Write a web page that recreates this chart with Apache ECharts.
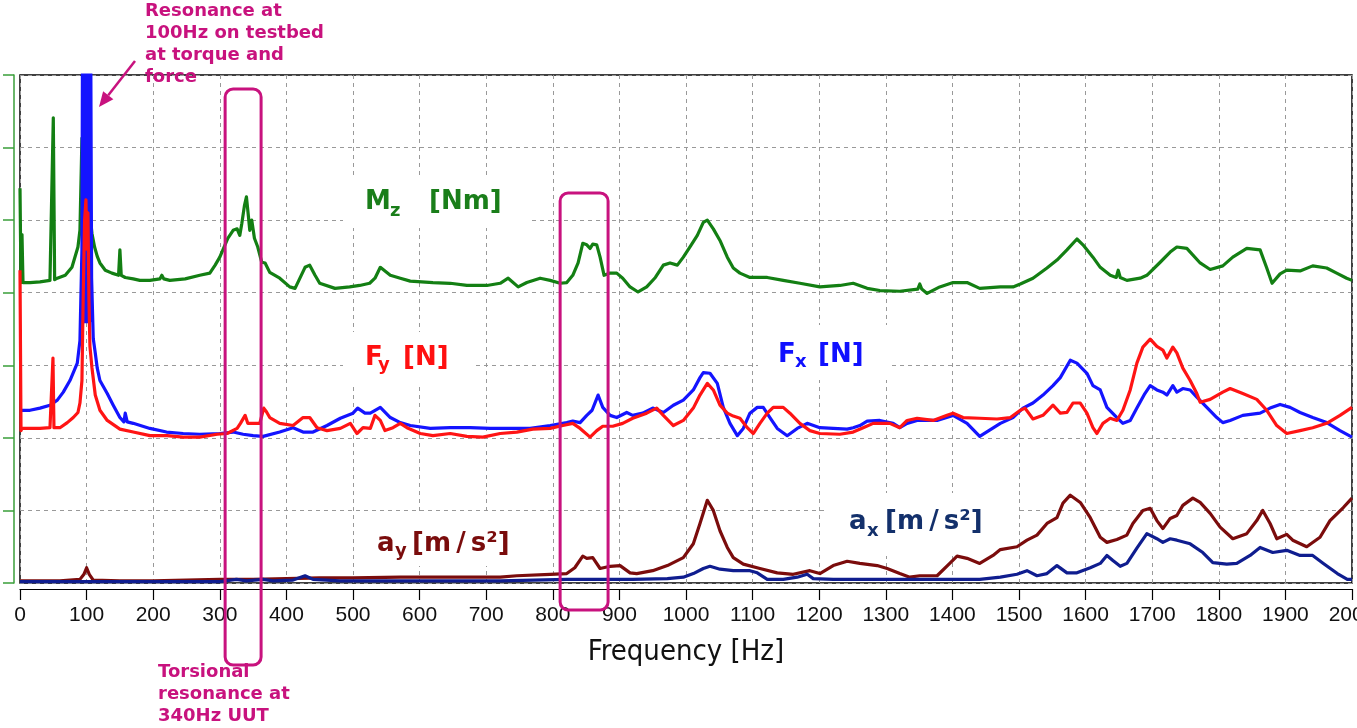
<!DOCTYPE html>
<html><head><meta charset="utf-8">
<script src="https://cdn.jsdelivr.net/npm/echarts@6/dist/echarts.min.js"></script>
<style>html,body{margin:0;padding:0;background:#fff}#c{width:1357px;height:728px}</style>
</head><body><div id="c"></div>
<script>
// Frequency [Hz] , amplitude (in grid divisions, 0..7)
const mzData = [[0,5.44],[1.5,4.14],[3,4.8],[4.5,4.14],[15,4.14],[30,4.15],[45,4.17],[48,4.17],[50,6.41],[52,4.18],[56,4.20],[68,4.24],[78,4.35],[87,4.63],[90,4.86],[93,6.13],[95,5.0],[100,5.6],[104,6.38],[106,5.0],[108,4.82],[112,4.63],[116,4.5],[120,4.41],[128,4.31],[138,4.27],[148,4.24],[150,4.59],[152,4.24],[158,4.21],[170,4.19],[180,4.17],[195,4.17],[210,4.19],[213,4.24],[216,4.19],[225,4.17],[248,4.19],[270,4.24],[285,4.27],[293,4.38],[300,4.49],[312,4.75],[320,4.86],[326,4.88],[330,4.79],[333,4.95],[337,5.2],[340,5.32],[343,5.05],[345,4.86],[348,5.0],[352,4.75],[357,4.63],[363,4.42],[368,4.41],[375,4.28],[390,4.20],[405,4.08],[413,4.06],[428,4.35],[435,4.38],[443,4.24],[450,4.13],[473,4.06],[495,4.08],[510,4.10],[525,4.13],[533,4.20],[541,4.35],[556,4.24],[571,4.20],[586,4.16],[620,4.14],[646,4.13],[671,4.10],[701,4.10],[721,4.13],[733,4.20],[748,4.08],[761,4.14],[781,4.20],[796,4.17],[811,4.13],[821,4.14],[830,4.24],[838,4.41],[845,4.68],[851,4.66],[856,4.61],[860,4.67],[866,4.66],[871,4.49],[877,4.24],[886,4.27],[896,4.27],[905,4.20],[916,4.08],[928,4.01],[941,4.08],[954,4.21],[966,4.38],[976,4.41],[987,4.38],[996,4.49],[1006,4.63],[1017,4.79],[1026,4.97],[1032,5.0],[1041,4.88],[1051,4.72],[1062,4.49],[1071,4.34],[1081,4.27],[1096,4.21],[1122,4.21],[1146,4.17],[1171,4.13],[1201,4.08],[1231,4.10],[1251,4.13],[1272,4.06],[1291,4.03],[1321,4.02],[1348,4.05],[1351,4.12],[1354,4.05],[1362,3.99],[1381,4.08],[1401,4.14],[1422,4.14],[1441,4.06],[1472,4.08],[1491,4.08],[1502,4.12],[1521,4.20],[1542,4.34],[1557,4.45],[1572,4.59],[1587,4.74],[1596,4.66],[1611,4.49],[1622,4.35],[1637,4.24],[1646,4.21],[1649,4.31],[1652,4.21],[1662,4.17],[1682,4.20],[1692,4.24],[1712,4.42],[1727,4.56],[1737,4.63],[1752,4.61],[1772,4.41],[1787,4.32],[1806,4.37],[1821,4.49],[1842,4.61],[1862,4.59],[1872,4.34],[1880,4.13],[1892,4.26],[1902,4.31],[1922,4.30],[1941,4.37],[1962,4.34],[1977,4.27],[1992,4.20],[2000,4.17]];

const fxData = [[0,2.38],[15,2.38],[30,2.41],[45,2.45],[56,2.52],[65,2.63],[75,2.79],[86,3.03],[90,3.34],[93,4.6],[94,8],[95.5,3.6],[97,8],[98.5,3.6],[100,8],[101.5,3.6],[103,8],[104.5,3.6],[106,8],[107.5,4.2],[110,3.37],[113,3.17],[116,2.96],[120,2.79],[131,2.61],[140,2.45],[150,2.28],[156,2.22],[158,2.34],[161,2.22],[170,2.20],[195,2.13],[220,2.08],[245,2.06],[270,2.05],[300,2.06],[320,2.08],[335,2.05],[350,2.03],[365,2.02],[390,2.08],[410,2.14],[425,2.08],[440,2.08],[461,2.17],[481,2.27],[500,2.34],[507,2.41],[518,2.34],[526,2.34],[541,2.42],[556,2.28],[571,2.21],[586,2.17],[616,2.13],[646,2.14],[676,2.14],[706,2.13],[736,2.13],[766,2.13],[796,2.17],[821,2.21],[830,2.23],[841,2.21],[851,2.31],[859,2.38],[868,2.59],[875,2.42],[886,2.31],[896,2.28],[911,2.35],[920,2.31],[935,2.34],[950,2.41],[966,2.35],[981,2.45],[996,2.52],[1011,2.66],[1021,2.83],[1026,2.90],[1036,2.89],[1047,2.75],[1056,2.42],[1066,2.20],[1077,2.03],[1086,2.13],[1096,2.34],[1107,2.42],[1116,2.42],[1126,2.28],[1137,2.13],[1152,2.03],[1167,2.13],[1182,2.20],[1201,2.14],[1221,2.13],[1242,2.12],[1251,2.14],[1261,2.17],[1272,2.23],[1291,2.24],[1311,2.20],[1321,2.14],[1332,2.20],[1347,2.24],[1377,2.24],[1401,2.31],[1422,2.20],[1441,2.02],[1472,2.20],[1491,2.28],[1506,2.41],[1521,2.48],[1536,2.59],[1551,2.72],[1562,2.83],[1577,3.07],[1587,3.03],[1602,2.89],[1611,2.72],[1622,2.66],[1632,2.42],[1647,2.28],[1656,2.20],[1667,2.24],[1677,2.41],[1689,2.61],[1697,2.72],[1707,2.66],[1716,2.63],[1722,2.59],[1731,2.72],[1737,2.63],[1746,2.68],[1757,2.66],[1767,2.56],[1782,2.42],[1797,2.28],[1806,2.21],[1817,2.24],[1836,2.31],[1862,2.34],[1877,2.41],[1892,2.46],[1907,2.42],[1922,2.35],[1941,2.28],[1962,2.21],[1982,2.10],[2000,2.01]];

const fyData = [[0,4.31],[1.5,2.10],[3,2.13],[15,2.13],[30,2.13],[45,2.14],[48,2.14],[49.5,3.10],[51,2.14],[60,2.14],[71,2.21],[80,2.28],[87,2.35],[90,2.48],[93,2.79],[95,4.0],[97,5.0],[99,5.28],[100.5,4.6],[102,5.1],[103.5,3.9],[105,3.26],[108,2.97],[113,2.59],[120,2.38],[131,2.24],[150,2.12],[170,2.08],[195,2.03],[221,2.03],[245,2.01],[270,2.01],[296,2.05],[311,2.06],[326,2.13],[331,2.20],[338,2.31],[342,2.20],[346,2.20],[353,2.20],[360,2.20],[366,2.41],[370,2.36],[375,2.28],[390,2.20],[410,2.17],[425,2.28],[435,2.28],[446,2.14],[461,2.10],[481,2.13],[496,2.20],[506,2.06],[515,2.14],[526,2.13],[533,2.31],[541,2.24],[548,2.10],[560,2.14],[571,2.20],[581,2.14],[601,2.06],[620,2.03],[646,2.06],[671,2.02],[695,2.01],[721,2.06],[746,2.08],[770,2.12],[796,2.13],[815,2.17],[830,2.20],[841,2.13],[856,2.01],[866,2.10],[875,2.16],[890,2.16],[905,2.20],[920,2.27],[941,2.34],[956,2.41],[966,2.31],[981,2.17],[996,2.24],[1011,2.41],[1021,2.59],[1032,2.75],[1041,2.66],[1051,2.45],[1062,2.34],[1071,2.30],[1081,2.27],[1092,2.14],[1101,2.06],[1111,2.20],[1122,2.34],[1131,2.42],[1146,2.42],[1156,2.34],[1171,2.20],[1186,2.10],[1201,2.06],[1231,2.05],[1251,2.08],[1266,2.14],[1281,2.20],[1306,2.20],[1321,2.14],[1332,2.24],[1347,2.27],[1371,2.24],[1392,2.31],[1401,2.34],[1416,2.28],[1441,2.27],[1467,2.26],[1487,2.28],[1502,2.38],[1509,2.41],[1521,2.26],[1536,2.31],[1551,2.45],[1562,2.34],[1572,2.35],[1581,2.48],[1592,2.48],[1602,2.34],[1611,2.14],[1617,2.06],[1626,2.20],[1637,2.27],[1647,2.24],[1656,2.38],[1667,2.66],[1677,3.03],[1686,3.25],[1697,3.36],[1707,3.26],[1716,3.21],[1722,3.10],[1731,3.25],[1737,3.17],[1746,2.96],[1757,2.79],[1767,2.61],[1772,2.49],[1787,2.53],[1806,2.63],[1817,2.68],[1836,2.61],[1857,2.53],[1872,2.38],[1887,2.17],[1902,2.06],[1922,2.10],[1941,2.14],[1962,2.20],[1982,2.31],[2000,2.42]];

const ayData = [[0,0.03],[30,0.03],[60,0.03],[90,0.05],[96,0.12],[100,0.21],[104,0.12],[110,0.04],[150,0.03],[200,0.03],[250,0.04],[300,0.05],[350,0.05],[400,0.06],[450,0.07],[500,0.07],[571,0.08],[646,0.08],[721,0.08],[746,0.10],[796,0.12],[821,0.13],[833,0.21],[845,0.37],[851,0.34],[860,0.35],[871,0.20],[886,0.23],[901,0.24],[916,0.14],[926,0.13],[950,0.17],[972,0.24],[996,0.35],[1011,0.54],[1021,0.82],[1032,1.14],[1041,1.0],[1051,0.72],[1062,0.49],[1071,0.35],[1086,0.26],[1111,0.20],[1137,0.14],[1161,0.12],[1186,0.17],[1201,0.13],[1221,0.24],[1242,0.30],[1261,0.27],[1287,0.24],[1302,0.20],[1321,0.13],[1336,0.08],[1351,0.10],[1377,0.10],[1396,0.27],[1407,0.37],[1422,0.34],[1441,0.27],[1461,0.38],[1472,0.46],[1497,0.50],[1512,0.59],[1527,0.66],[1542,0.82],[1557,0.90],[1566,1.10],[1577,1.21],[1592,1.11],[1607,0.90],[1622,0.63],[1632,0.56],[1647,0.60],[1662,0.66],[1671,0.82],[1686,1.0],[1697,1.03],[1707,0.86],[1716,0.75],[1727,0.89],[1737,0.93],[1746,1.07],[1761,1.17],[1772,1.11],[1787,0.96],[1802,0.77],[1821,0.61],[1842,0.68],[1857,0.86],[1866,1.0],[1877,0.82],[1887,0.61],[1902,0.67],[1911,0.59],[1932,0.50],[1952,0.63],[1967,0.86],[1987,1.04],[2000,1.17]];

const axData = [[0,0.02],[100,0.02],[200,0.02],[300,0.02],[325,0.05],[340,0.03],[365,0.05],[380,0.03],[410,0.04],[428,0.10],[440,0.05],[480,0.03],[571,0.03],[721,0.03],[821,0.05],[920,0.05],[972,0.06],[996,0.08],[1011,0.13],[1026,0.20],[1036,0.23],[1051,0.19],[1071,0.17],[1096,0.17],[1107,0.14],[1122,0.05],[1146,0.05],[1167,0.08],[1182,0.12],[1191,0.06],[1221,0.05],[1321,0.05],[1441,0.05],[1472,0.08],[1497,0.12],[1512,0.17],[1527,0.10],[1542,0.13],[1557,0.24],[1572,0.14],[1587,0.14],[1607,0.21],[1622,0.27],[1632,0.38],[1641,0.31],[1652,0.23],[1662,0.27],[1677,0.48],[1692,0.68],[1707,0.61],[1716,0.56],[1727,0.61],[1737,0.59],[1757,0.54],[1776,0.42],[1791,0.28],[1812,0.26],[1827,0.27],[1847,0.38],[1862,0.49],[1881,0.42],[1902,0.45],[1922,0.38],[1941,0.38],[1957,0.27],[1978,0.13],[1993,0.05],[2000,0.05]];

// highlighted frequency bands (Hz)
const band1 = [308, 362];
const band2 = [811, 883];

const chart = echarts.init(document.getElementById('c'), null, {renderer: 'canvas'});
const dash = {color: '#999999', type: [4, 4], width: 1};
function line(name, data, color, z) {
  return {name, type: 'line', data, showSymbol: false, symbol: 'none', silent: true, clip: true, z,
    lineStyle: {color, width: 3.2, join: 'round'}};
}
chart.setOption({
  animation: false,
  backgroundColor: '#fff',
  grid: {left: 20, right: 5, top: 75, bottom: 145, outerBoundsMode: 'none', containLabel: false,
    show: true, borderColor: '#000', borderWidth: 1.5, backgroundColor: 'transparent'},
  xAxis: {type: 'value', min: 0, max: 2000, interval: 100, offset: 6,
    axisLine: {show: true, onZero: false, lineStyle: {color: '#000', width: 1.2}},
    axisTick: {show: true, length: 11, lineStyle: {color: '#000', width: 1.2}},
    axisLabel: {margin: 16, fontFamily: '"Liberation Sans Narrow","Arial Narrow","Liberation Sans",sans-serif', fontSize: 21, color: '#111',
      formatter: (v) => String(v)},
    splitLine: {show: true, lineStyle: dash},
    name: 'Frequency [Hz]', nameLocation: 'middle', nameGap: 49, nameMoveOverlap: false,
    nameTextStyle: {fontFamily: '"DejaVu Sans Condensed","DejaVu Sans",sans-serif', fontSize: 29, color: '#111'}
  },
  yAxis: {type: 'value', min: 0, max: 7, interval: 1, offset: 6,
    axisLine: {show: true, onZero: false, lineStyle: {color: '#3a9e3a', width: 1.5}},
    axisTick: {show: true, length: 11, lineStyle: {color: '#3a9e3a', width: 1.5}},
    axisLabel: {show: false},
    splitLine: {show: true, lineStyle: dash}
  },
  series: [
    line('Mz', mzData, '#137f13', 3),
    line('ay', ayData, '#7b0c0c', 4),
    line('ax', axData, '#0f1d8f', 5),
    line('Fx', fxData, '#1414ff', 6),
    line('Fy', fyData, '#ff1414', 7)
  ]
});

const MAG = '#c8127e';
const bold = (s) => 'bold ' + s + 'px "DejaVu Sans", Verdana, sans-serif';
function txt(text, x, y, size, color, extra) {
  return Object.assign({type: 'text', z: 100, silent: true,
    style: Object.assign({text, x, y, font: bold(size), fill: color, align: 'left', verticalAlign: 'middle'}, extra || {})});
}
function white(x, y, w, h) {
  return {type: 'rect', z: 1, silent: true, shape: {x, y, width: w, height: h}, style: {fill: '#fff'}};
}
const p1a = chart.convertToPixel({gridIndex: 0}, [band1[0], 0])[0];
const p1b = chart.convertToPixel({gridIndex: 0}, [band1[1], 0])[0];
const p2a = chart.convertToPixel({gridIndex: 0}, [band2[0], 0])[0];
const p2b = chart.convertToPixel({gridIndex: 0}, [band2[1], 0])[0];

// arrow geometry
const tail = [135, 61], tip = [99, 107];
const dx = tip[0] - tail[0], dy = tip[1] - tail[1], L = Math.hypot(dx, dy);
const ux = dx / L, uy = dy / L, hl = 15, hw = 6.5;
const bx = tip[0] - ux * hl, by = tip[1] - uy * hl;
const unit = '[m\u2009/\u2009s²]';

chart.setOption({graphic: [
  white(343, 175, 185, 53),
  white(343, 332, 130, 53),
  white(758, 325, 130, 55),
  white(365, 515, 165, 51),
  white(828, 493, 191, 63),
  txt('M', 365, 202, 26, '#1a7e1a'), txt('z', 390, 211, 18, '#1a7e1a'), txt('[Nm]', 429, 202, 26, '#1a7e1a'),
  txt('F', 365, 358, 26, '#ff1010'), txt('y', 378, 365, 18, '#ff1010'), txt('[N]', 403, 358, 26, '#ff1010'),
  txt('F', 778, 355, 26, '#1010ff'), txt('x', 795, 362, 18, '#1010ff'), txt('[N]', 818, 355, 26, '#1010ff'),
  txt('a', 377, 544, 26, '#7a0c0c'), txt('y', 395, 551, 18, '#7a0c0c'), txt(unit, 412, 544, 26, '#7a0c0c'),
  txt('a', 849, 522, 26, '#13306b'), txt('x', 867, 531, 18, '#13306b'), txt(unit, 885, 522, 26, '#13306b'),
  {type: 'rect', z: 90, silent: true, shape: {x: p1a, y: 89, width: p1b - p1a, height: 576, r: 8}, style: {fill: 'none', stroke: MAG, lineWidth: 3}},
  {type: 'rect', z: 90, silent: true, shape: {x: p2a, y: 193, width: p2b - p2a, height: 417, r: 8}, style: {fill: 'none', stroke: MAG, lineWidth: 3}},
  {type: 'line', z: 90, silent: true, shape: {x1: tail[0], y1: tail[1], x2: bx, y2: by}, style: {stroke: MAG, lineWidth: 2.5}},
  {type: 'polygon', z: 90, silent: true, shape: {points: [tip, [bx - uy * hw, by + ux * hw], [bx + uy * hw, by - ux * hw]]}, style: {fill: MAG}},
  txt('Resonance at\n100Hz on testbed\nat torque and\nforce', 145, 0, 18, MAG, {verticalAlign: 'top', lineHeight: 22}),
  txt('Torsional\nresonance at\n340Hz UUT', 158, 661, 18, MAG, {verticalAlign: 'top', lineHeight: 22})
]});
</script>
</body></html>
